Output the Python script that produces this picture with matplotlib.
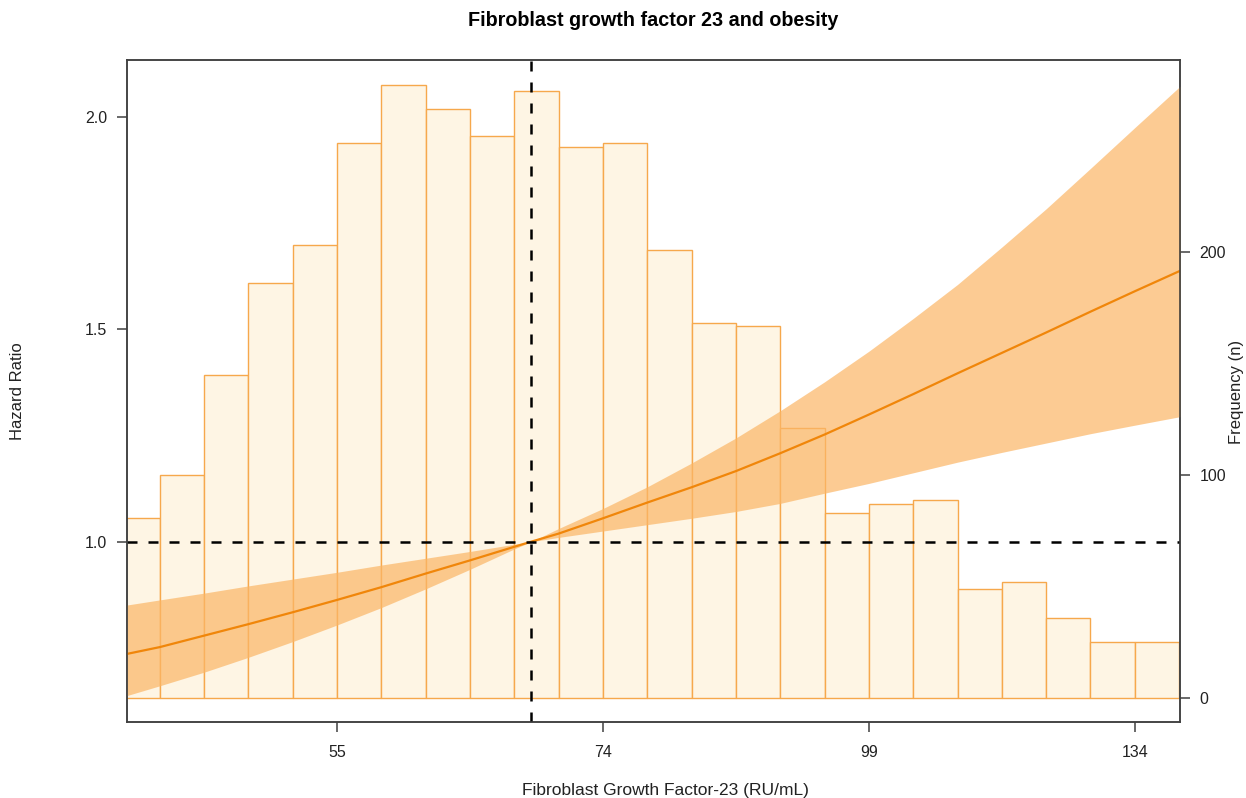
import numpy as np
import matplotlib
matplotlib.use("Agg")
import matplotlib.pyplot as plt

plt.rcParams["font.family"] = ["Liberation Sans", "DejaVu Sans"]

# x axis is ln(FGF-23); ticks labelled with the back-transformed value
xtick_pos = [4.0, 4.3, 4.6, 4.9]
xtick_labels = ["55", "74", "99", "134"]
ref_x = 4.219  # reference value (~68 RU/mL)

# spline estimate of hazard ratio with 95% CI
log_fgf = [3.763, 3.80, 3.85, 3.90, 3.95, 4.00, 4.05, 4.10, 4.15, 4.20, 4.219,
           4.25, 4.30, 4.35, 4.40, 4.45, 4.50, 4.55, 4.60, 4.65, 4.70, 4.75,
           4.80, 4.85, 4.90, 4.951]
hr = [0.736, 0.752, 0.779, 0.806, 0.834, 0.863, 0.893, 0.925, 0.956, 0.988, 1.000,
      1.019, 1.055, 1.092, 1.128, 1.166, 1.208, 1.252, 1.299, 1.347, 1.396, 1.444,
      1.492, 1.541, 1.589, 1.637]
hr_upper = [0.851, 0.863, 0.879, 0.896, 0.912, 0.928, 0.945, 0.961, 0.977, 0.994, 1.000,
            1.031, 1.078, 1.129, 1.185, 1.244, 1.308, 1.376, 1.448, 1.525, 1.605, 1.693,
            1.783, 1.878, 1.974, 2.071]
hr_lower = [0.638, 0.661, 0.693, 0.728, 0.765, 0.804, 0.845, 0.889, 0.935, 0.983, 1.000,
            1.010, 1.025, 1.040, 1.055, 1.071, 1.090, 1.114, 1.137, 1.162, 1.187, 1.210,
            1.232, 1.254, 1.274, 1.294]

# histogram of ln(FGF-23), bin width 0.05
bin_left = [3.75, 3.80, 3.85, 3.90, 3.95, 4.00, 4.05, 4.10, 4.15, 4.20, 4.25, 4.30,
            4.35, 4.40, 4.45, 4.50, 4.55, 4.60, 4.65, 4.70, 4.75, 4.80, 4.85, 4.90]
counts = [81, 100, 145, 186, 203, 249, 275, 264, 252, 272, 247, 249,
          201, 168, 167, 121, 83, 87, 89, 49, 52, 36, 25, 25]
bin_width = 0.05

W, H = 1246, 798
fig = plt.figure(figsize=(W / 100, H / 100), dpi=100)
ax = fig.add_axes([127 / W, 1 - 721.5 / H, (1180 - 127) / W, (721.5 - 60) / H])
ax2 = ax.twinx()
ax.set_zorder(ax2.get_zorder() + 1)
ax.patch.set_visible(False)

# histogram (right axis)
ax2.bar(bin_left, counts, width=bin_width, align="edge",
        color="#FEF5E4", edgecolor="#F6A84C", linewidth=1.0)
ax2.set_ylim(-10.4, 286.0)
ax2.set_yticks([0, 100, 200])

# HR curve (left axis)
ax.fill_between(log_fgf, hr_lower, hr_upper, color=(251 / 255, 182 / 255, 102 / 255),
                alpha=0.7, linewidth=0)
ax.plot(log_fgf, hr, color="#F0860A", linewidth=1.6)
ax.axhline(1.0, color="black", linewidth=1.8, linestyle=(0, (4, 4.4)))
ax.axvline(ref_x, color="black", linewidth=1.8, linestyle=(0, (4, 4.4)))

ax.set_xlim(3.763, 4.951)
ax.set_ylim(0.577, 2.133)
ax.set_yticks([1.0, 1.5, 2.0])
ax.set_yticklabels(["1.0", "1.5", "2.0"])
ax.set_xticks(xtick_pos)
ax.set_xticklabels(xtick_labels)

for a in (ax, ax2):
    for s in a.spines.values():
        s.set_color("#404040")
        s.set_linewidth(1.1)
ax.tick_params(axis="both", direction="out", length=7.2, width=1.1, color="#404040",
               labelsize=11.5, labelcolor="#222222")
ax.tick_params(axis="x", pad=10)
ax.tick_params(axis="y", pad=7)
ax2.tick_params(axis="y", direction="out", length=7.2, width=1.1, color="#404040",
                labelsize=11.5, labelcolor="#222222", pad=7)

fig.text(653 / W, 1 - 20 / H, "Fibroblast growth factor 23 and obesity",
         ha="center", va="center", fontsize=14.2, fontweight="bold", color="black")
fig.text(665 / W, 1 - 791 / H, "Fibroblast Growth Factor-23 (RU/mL)",
         ha="center", va="center", fontsize=12.5, color="#222222")
fig.text(18 / W, 1 - 391 / H, "Hazard Ratio", rotation=90,
         ha="center", va="center", fontsize=12, color="#222222")
fig.text(1237 / W, 1 - 392 / H, "Frequency (n)", rotation=90,
         ha="center", va="center", fontsize=12, color="#222222")

fig.savefig("out.png", dpi=100)
